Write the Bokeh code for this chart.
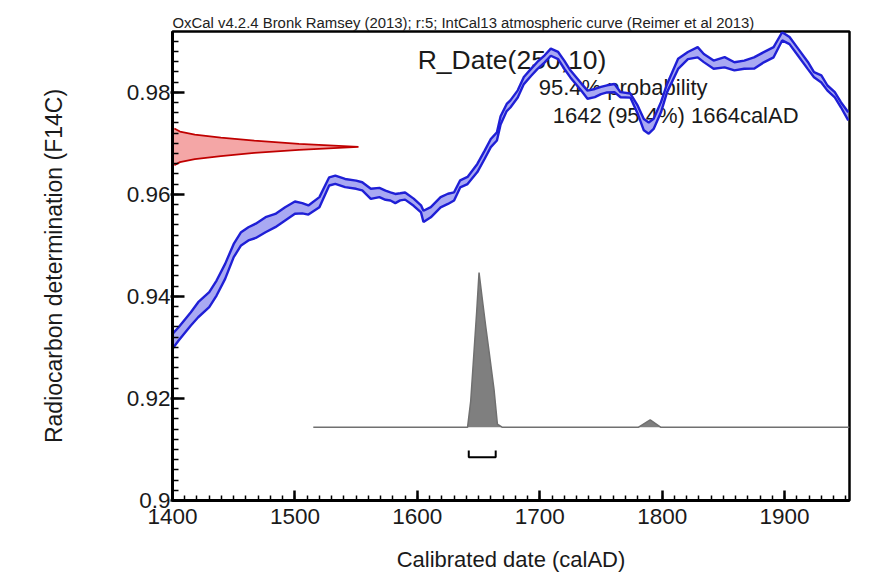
from bokeh.plotting import figure
from bokeh.models import Range1d, SingleIntervalTicker, CustomJSTickFormatter, Label
from bokeh.embed import file_html
from bokeh.resources import INLINE

# ---- IntCal13 curve: calendar year, F14C mean, 1-sigma
years = [1400, 1405, 1415, 1421, 1430, 1436, 1443, 1450, 1456, 1462, 1468, 1476,
         1484, 1492, 1500, 1506, 1511, 1520, 1528, 1533, 1541, 1550, 1555, 1562,
         1569, 1574, 1578, 1582, 1586, 1590, 1597, 1603, 1605, 1611, 1619, 1625,
         1630, 1635, 1641, 1649, 1655, 1660, 1665, 1668, 1673, 1676, 1682, 1687,
         1693, 1698, 1704, 1709, 1715, 1720, 1725, 1734, 1739, 1745, 1750, 1755,
         1761, 1766, 1774, 1780, 1785, 1789, 1793, 1799, 1804, 1813, 1821, 1829,
         1834, 1842, 1851, 1859, 1867, 1875, 1883, 1891, 1898, 1904, 1911, 1919,
         1924, 1930, 1935, 1941, 1946, 1952]
f14c = [0.93119, 0.93265, 0.93559, 0.93738, 0.93934, 0.94163, 0.94490, 0.94898,
        0.95127, 0.95225, 0.95284, 0.95404, 0.95486, 0.95617, 0.95738, 0.95727,
        0.95692, 0.95845, 0.96253, 0.96286, 0.96220, 0.96188, 0.96156, 0.96009,
        0.96035, 0.95982, 0.95959, 0.95917, 0.95950, 0.95966, 0.95845, 0.95714,
        0.95567, 0.95649, 0.95845, 0.95911, 0.95959, 0.96204, 0.96270, 0.96515,
        0.96776, 0.97004, 0.97134, 0.97450, 0.97700, 0.97771, 0.97967, 0.98229,
        0.98392, 0.98523, 0.98654, 0.98785, 0.98719, 0.98540, 0.98360, 0.98099,
        0.97952, 0.97984, 0.98034, 0.98066, 0.98082, 0.97951, 0.97935, 0.97657,
        0.97364, 0.97298, 0.97380, 0.97706, 0.98082, 0.98556, 0.98719, 0.98784,
        0.98670, 0.98540, 0.98588, 0.98507, 0.98540, 0.98572, 0.98686, 0.98784,
        0.99095, 0.99013, 0.98785, 0.98523, 0.98343, 0.98262, 0.98082, 0.97951,
        0.97755, 0.97527]
f14c_err = [0.00147, 0.0013, 0.0013, 0.00147, 0.00147, 0.00147, 0.00147, 0.0013,
            0.0013, 0.0013, 0.0014, 0.00147, 0.0013, 0.0013, 0.0012, 0.0010,
            0.0009, 0.0010, 0.0008, 0.0008, 0.0008, 0.0008, 0.0008, 0.0010,
            0.0009, 0.0009, 0.0008, 0.0009, 0.0007, 0.0007, 0.0007, 0.0007,
            0.0011, 0.0010, 0.0010, 0.0010, 0.0008, 0.0007, 0.0007, 0.0008,
            0.0008, 0.0008, 0.0008, 0.0008, 0.0007, 0.0007, 0.0007, 0.0007,
            0.0007, 0.0007, 0.0007, 0.0007, 0.0007, 0.0008, 0.0007, 0.0007,
            0.0008, 0.0008, 0.0007, 0.0007, 0.0008, 0.0005, 0.0004, 0.0008,
            0.0011, 0.0011, 0.0010, 0.0010, 0.0008, 0.0010, 0.0007, 0.0010,
            0.0008, 0.0008, 0.0010, 0.0008, 0.0008, 0.0011, 0.0010, 0.0010,
            0.0008, 0.0007, 0.0007, 0.0007, 0.0005, 0.0007, 0.0005, 0.0005,
            0.0005, 0.0008]

# ---- Radiocarbon determination R_Date(250,10): F14C values and relative density
rd_f14c = [0.9657, 0.9663, 0.9669, 0.9675, 0.9681, 0.9687, 0.9693,
           0.9699, 0.9705, 0.9711, 0.9717, 0.9723, 0.9729]
rd_density = [0.01, 0.04, 0.12, 0.26, 0.44, 0.68, 1.0,
              0.68, 0.44, 0.26, 0.12, 0.04, 0.01]

# ---- Calibrated date distribution (relative probability)
cal_years = [1515, 1641, 1643.6, 1646.3, 1648.5, 1650.4, 1653.2, 1655.9,
             1658.6, 1662.7, 1665.4, 1669.5, 1780.4, 1790.2, 1799.0, 1953]
cal_prob = [0.0, 0.0, 0.17, 0.49, 0.75, 1.0, 0.82, 0.65,
            0.49, 0.24, 0.02, 0.0, 0.0, 0.048, 0.0, 0.0]

# 95.4% range
range_from = 1642
range_to = 1664
range_pct = 95.4

title_text = "OxCal v4.2.4 Bronk Ramsey (2013); r:5; IntCal13 atmospheric curve (Reimer et al 2013)"
FONT = "Liberation Sans"

p = figure(width=873, height=577,
           x_range=Range1d(1400, 1953), y_range=Range1d(0.9, 0.9919),
           output_backend="svg", toolbar_location=None,
           min_border_left=172, min_border_right=24,
           min_border_top=31, min_border_bottom=77)
p.extra_x_ranges = {"dens": Range1d(0, 3.64)}
p.extra_y_ranges = {"prob": Range1d(-0.473, 2.559)}

p.background_fill_color = "white"
p.border_fill_color = "white"
p.outline_line_color = "black"
p.outline_line_width = 2.5
p.xgrid.visible = False
p.ygrid.visible = False

# title
p.title.text = title_text
p.title.text_font = FONT
p.title.text_font_size = "14.9px"
p.title.text_font_style = "normal"
p.title.text_color = "#222222"
p.title.align = "left"
p.title.standoff = 2
p.title.offset = 0

# labels under the curve
for txt, x, y, fs in [("R_Date(250,10)", 1600.3, 0.98628, "26.5px"),
                      ("%.1f%% probability" % range_pct, 1699.2, 0.98092, "22px"),
                      ("%d (%.1f%%) %dcalAD" % (range_from, range_pct, range_to), 1710.6, 0.97543, "22px")]:
    p.add_layout(Label(x=x, y=y, text=txt, text_font=FONT, text_font_size=fs,
                       text_baseline="alphabetic", text_color="#1a1a1a", level="underlay"))

# calibration curve band
upper = [m + e for m, e in zip(f14c, f14c_err)]
lower = [m - e for m, e in zip(f14c, f14c_err)]
p.varea(x=years, y1=lower, y2=upper, fill_color="#a9a9f2")
p.line(years, upper, line_color="#1f1fd6", line_width=2.4)
p.line(years, lower, line_color="#1f1fd6", line_width=2.4)

# radiocarbon determination (red)
p.harea(y=rd_f14c, x1=[0] * len(rd_f14c), x2=rd_density, x_range_name="dens",
        fill_color="#f4a6a6")
p.line(rd_density, rd_f14c, x_range_name="dens", line_color="#c00000", line_width=1.8)

# calibrated distribution (grey)
p.varea(x=cal_years, y1=[0] * len(cal_years), y2=cal_prob, y_range_name="prob",
        fill_color="#7f7f7f")
p.line(cal_years, cal_prob, y_range_name="prob", line_color="#707070", line_width=1.5)

# 95.4% range bracket
p.multi_line(xs=[[range_from, range_from, range_to, range_to]],
             ys=[[-0.15, -0.194, -0.194, -0.15]], y_range_name="prob",
             line_color="black", line_width=2)

# axes
for ax in (p.xaxis[0], p.yaxis[0]):
    ax.axis_line_width = 3
    ax.axis_line_color = "black"
    ax.major_tick_line_width = 2.5
    ax.minor_tick_line_width = 1.5
    ax.major_tick_line_color = "black"
    ax.minor_tick_line_color = "black"
    ax.minor_tick_out = 0
    ax.major_label_text_font = FONT
    ax.major_label_text_font_size = "22.5px"
    ax.major_label_text_color = "#1a1a1a"
    ax.axis_label_text_font = FONT
    ax.axis_label_text_font_style = "normal"
    ax.axis_label_text_color = "#1a1a1a"

p.xaxis.ticker = SingleIntervalTicker(interval=100, num_minor_ticks=10)
p.xaxis.major_tick_in = 10
p.xaxis.major_tick_out = 0
p.xaxis.minor_tick_in = 5
p.xaxis.major_label_standoff = 8
p.xaxis.axis_label = "Calibrated date (calAD)"
p.xaxis.axis_label_text_font_size = "22px"
p.xaxis.axis_label_standoff = 20

p.yaxis.ticker = SingleIntervalTicker(interval=0.02, num_minor_ticks=10)
p.yaxis.formatter = CustomJSTickFormatter(code="return Number(tick.toFixed(2)).toString();")
p.yaxis.major_tick_in = 12
p.yaxis.major_tick_out = 2
p.yaxis.minor_tick_in = 6
p.yaxis.major_label_standoff = 0
p.yaxis.axis_label = "Radiocarbon determination (F14C)"
p.yaxis.axis_label_text_font_size = "23px"
p.yaxis.axis_label_standoff = 57

open("out.html", "w").write(file_html(p, INLINE))
